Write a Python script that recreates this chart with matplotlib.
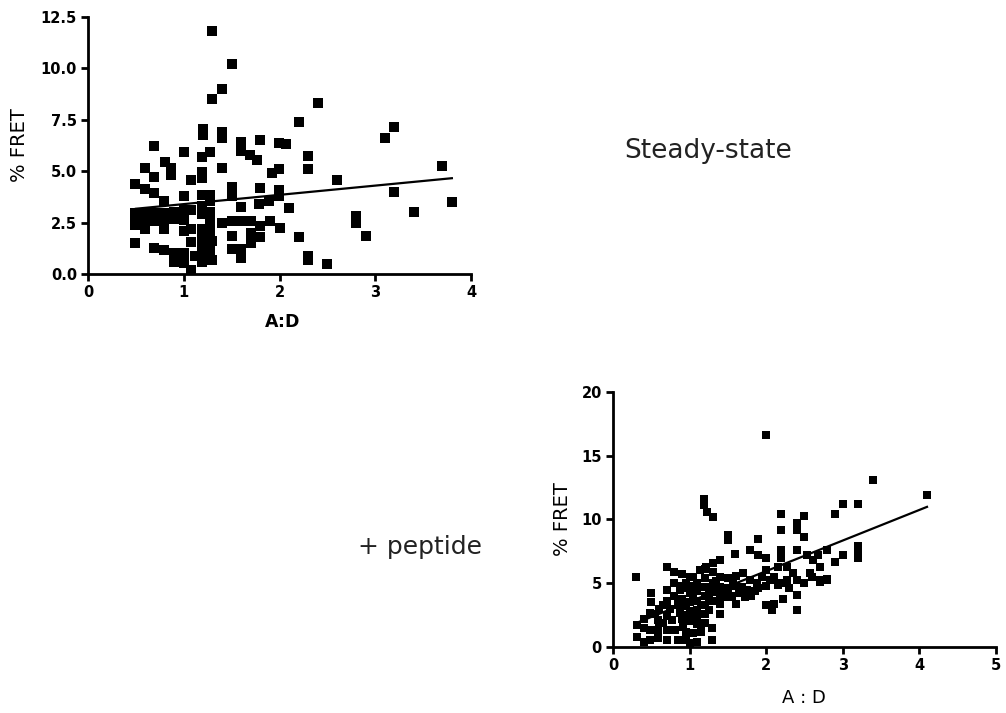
import numpy as np
import matplotlib
matplotlib.use("Agg")
import matplotlib.pyplot as plt

# steady-state data (A:D ratio vs % FRET)
ss_x = [1.30, 1.50, 1.40, 1.29, 2.40, 2.20, 3.20, 3.10,
        1.20, 1.20, 1.40, 1.40, 0.69, 1.00, 1.60, 1.60, 1.80, 1.99, 2.07,
        1.27, 1.19, 1.69, 1.76, 2.30, 2.30, 0.60, 0.80, 0.87, 0.87,
        1.40, 1.99, 1.92, 3.70, 0.49, 0.69, 1.08, 1.19, 1.19, 2.60,
        0.60, 0.69, 0.79, 1.00, 1.19, 1.27, 1.27, 1.50, 1.50, 1.80, 1.99, 1.99, 3.20,
        2.10, 1.60, 1.79, 1.89, 3.80, 3.40, 2.80, 2.80, 2.90, 2.20, 2.30, 2.30, 2.50,
        0.49, 0.49, 0.49, 0.60, 0.60, 0.60, 0.69, 0.69, 0.79, 0.79, 0.79, 0.90, 0.90,
        1.00, 1.08, 1.00, 1.00, 0.49, 0.69, 0.79, 0.90, 0.90, 1.00, 1.00, 1.08, 1.08, 1.08,
        1.19, 1.19, 1.19, 1.19, 1.19, 1.19, 1.19, 1.27, 1.27, 1.27, 1.27, 1.27, 1.27,
        1.40, 1.50, 1.50, 1.60, 1.60, 1.60, 1.70, 1.80, 1.80, 1.70, 1.70, 1.90, 2.00, 1.50,
        1.23, 1.23, 1.23, 1.30, 1.30, 1.12, 0.55, 0.65, 0.75]
ss_y = [11.8, 10.2, 9.0, 8.5, 8.3, 7.4, 7.15, 6.6,
        7.05, 6.75, 6.9, 6.6, 6.25, 5.95, 6.4, 6.0, 6.5, 6.35, 6.3,
        5.95, 5.7, 5.8, 5.55, 5.75, 5.1, 5.15, 5.45, 5.15, 4.8,
        5.15, 5.1, 4.9, 5.25, 4.4, 4.7, 4.55, 4.65, 4.95, 4.55,
        4.15, 3.95, 3.55, 3.8, 3.85, 3.85, 3.55, 4.25, 3.8, 4.2, 4.1, 3.8, 4.0,
        3.2, 3.25, 3.4, 3.55, 3.5, 3.0, 2.8, 2.5, 1.85, 1.8, 0.9, 0.7, 0.5,
        2.95, 2.6, 2.4, 2.95, 2.6, 2.2, 2.95, 2.6, 2.95, 2.6, 2.2, 3.0, 2.7,
        3.1, 3.1, 2.65, 2.1, 1.5, 1.25, 1.15, 1.0, 0.6, 1.0, 0.55, 0.2, 1.55, 2.2,
        3.3, 2.9, 2.2, 1.8, 1.4, 1.0, 0.6, 3.0, 2.6, 2.2, 1.8, 1.4, 1.0,
        2.5, 1.85, 1.2, 1.2, 0.8, 2.6, 2.6, 2.35, 1.8, 2.0, 1.5, 2.6, 2.25, 2.6,
        2.0, 1.2, 0.8, 1.6, 0.7, 0.9, 2.8, 2.7, 2.8]
ss_fit = (0.45, 2.95)      # slope, intercept
ss_fit_range = (0.5, 3.8)

# + peptide data
pep_x = [2.0, 3.4, 4.1, 1.19, 1.19, 1.23, 1.3, 2.2, 2.2, 2.4, 2.4, 2.5, 2.5, 2.9, 3.0, 3.2,
         3.2, 3.2, 3.2, 3.0, 2.9, 2.79, 2.68,
         1.5, 1.5, 1.59, 1.9, 1.79, 1.9, 2.0, 2.2, 2.2, 2.4, 2.53, 2.61, 2.7, 2.79, 2.7, 2.57,
         2.4, 2.4, 2.22, 2.1, 2.07, 2.0, 2.16, 2.27, 2.35, 2.4, 2.27,
         2.0, 2.05, 1.94, 1.88, 1.79, 1.7, 1.68, 1.57, 1.75, 1.72, 1.61, 1.5, 1.4, 1.4,
         0.30, 0.70, 0.5, 0.5, 0.31, 0.31, 0.4,
         0.48, 0.59, 0.7, 0.77, 0.87, 0.48, 0.59, 0.7, 0.81, 0.92, 0.48, 0.59, 0.7, 0.85, 0.96,
         1.0, 1.29, 1.29, 1.1, 1.1, 1.05,
         0.87, 0.96, 1.05, 1.14, 1.22, 1.31, 1.4,
         0.8, 0.9, 0.8, 0.9, 0.7, 0.8, 0.7, 0.6, 0.9, 1.0, 1.0, 1.0, 1.0, 1.1, 1.1, 1.1, 1.1,
         1.1, 1.2, 1.2, 1.2, 1.2, 1.2, 1.3, 1.3, 1.3, 1.3, 1.4, 1.4, 1.4, 1.5, 1.5, 1.6, 1.6,
         1.65, 1.8, 1.9, 2.0, 2.1, 2.2, 2.3, 2.5, 2.6, 2.7, 2.8, 1.0, 1.2, 0.6, 0.9, 0.95,
         1.15, 1.2, 0.75, 0.85, 0.55,
         0.95, 1.05, 1.15, 1.25, 1.35, 0.85, 0.95, 1.05, 1.15, 1.25, 1.35, 0.95, 1.05, 1.15,
         1.25, 0.65, 0.65, 0.4, 0.4, 1.45, 1.55, 1.85, 2.15]
pep_y = [16.6, 13.1, 11.9, 11.6, 11.1, 10.6, 10.2, 10.4, 9.2, 9.7, 9.2, 10.3, 8.6, 10.4, 11.2, 11.2,
         7.9, 7.4, 7.0, 7.2, 6.7, 7.6, 7.2,
         8.8, 8.4, 7.3, 8.5, 7.6, 7.2, 6.95, 7.6, 6.95, 7.6, 7.2, 6.8, 6.3, 5.25, 5.25, 5.8,
         4.1, 2.9, 3.8, 3.4, 2.9, 3.3, 6.3, 6.3, 5.8, 5.25, 5.25,
         6.0, 5.25, 5.5, 5.0, 5.25, 5.8, 4.7, 5.0, 4.45, 3.95, 3.4, 3.95, 3.4, 2.6,
         5.5, 6.3, 4.2, 3.55, 1.7, 0.8, 1.45,
         2.64, 2.1, 2.4, 2.1, 2.64, 1.33, 1.33, 1.33, 1.33, 1.6, 0.55, 0.68, 0.55, 0.55, 0.55,
         0.3, 0.55, 1.46, 0.4, 1.8, 1.1,
         4.47, 5.0, 5.5, 6.0, 6.3, 6.55, 6.8,
         5.9, 5.7, 5.0, 4.8, 4.5, 4.0, 3.6, 3.0, 3.8, 4.2, 3.5, 2.8, 2.0, 5.0, 4.4, 3.6, 2.9,
         2.3, 5.4, 4.7, 4.0, 3.3, 2.6, 5.9, 5.0, 4.3, 3.6, 5.5, 4.7, 4.0, 5.4, 4.6, 5.6, 4.8,
         4.2, 4.0, 4.6, 4.8, 5.5, 5.0, 4.6, 5.0, 5.5, 5.1, 5.3, 5.5, 6.1, 1.9, 2.2, 1.2,
         1.2, 1.9, 3.0, 3.3, 2.6,
         4.6, 3.9, 4.7, 3.9, 4.5, 3.4, 3.2, 4.8, 3.3, 4.6, 5.2, 2.5, 2.4, 1.6, 2.9,
         3.3, 1.9, 2.2, 0.4, 4.3, 4.0, 4.4, 4.9]
pep_fit = (2.4, 1.15)
pep_fit_range = (0.3, 4.1)

fig = plt.figure(figsize=(10.06, 7.13), dpi=100)

def style(ax, xt, yt, ylbl):
    for s in ["top", "right"]:
        ax.spines[s].set_visible(False)
    for s in ["left", "bottom"]:
        ax.spines[s].set_linewidth(2.0)
    ax.set_xticks(xt)
    ax.set_yticks(yt)
    ax.set_yticklabels(ylbl)
    ax.tick_params(width=2.0, length=5, pad=3, labelsize=10.5)
    for t in ax.get_xticklabels() + ax.get_yticklabels():
        t.set_fontweight("bold")

# top: steady-state
ax1 = fig.add_axes([0.0875, 0.6157, 0.3807, 0.3604])
ax1.scatter(ss_x, ss_y, marker="s", s=44, color="black", linewidths=0, clip_on=False, zorder=3)
fx = np.array(ss_fit_range)
ax1.plot(fx, ss_fit[0] * fx + ss_fit[1], color="black", lw=1.6, zorder=4)
ax1.set_xlim(0, 4)
ax1.set_ylim(0, 12.5)
style(ax1, [0, 1, 2, 3, 4], [0, 2.5, 5, 7.5, 10, 12.5],
      ["0.0", "2.5", "5.0", "7.5", "10.0", "12.5"])
ax1.set_xlabel("A:D", fontsize=12.5, fontweight="bold")
ax1.set_ylabel("% FRET", fontsize=14)
ax1.xaxis.set_label_coords(0.507, -0.15)
ax1.yaxis.set_label_coords(-0.155, 0.5)

# bottom: + peptide
ax2 = fig.add_axes([0.6093, 0.0926, 0.3807, 0.3576])
ax2.scatter(pep_x, pep_y, marker="s", s=34, color="black", linewidths=0, clip_on=False, zorder=3)
fx = np.array(pep_fit_range)
ax2.plot(fx, pep_fit[0] * fx + pep_fit[1], color="black", lw=1.6, zorder=4)
ax2.set_xlim(0, 5)
ax2.set_ylim(0, 20)
style(ax2, [0, 1, 2, 3, 4, 5], [0, 5, 10, 15, 20], ["0", "5", "10", "15", "20"])
ax2.set_xlabel("A : D", fontsize=13)
ax2.set_ylabel("% FRET", fontsize=14)
ax2.xaxis.set_label_coords(0.499, -0.165)
ax2.yaxis.set_label_coords(-0.107, 0.5)

fig.text(708 / 1006, 1 - 158 / 713, "Steady-state", fontsize=19, ha="center", va="baseline", color="#222222")
fig.text(358 / 1006, 1 - 554 / 713, "+ peptide", fontsize=18, ha="left", va="baseline", color="#222222")

fig.savefig("out.png", dpi=100, facecolor="white")
